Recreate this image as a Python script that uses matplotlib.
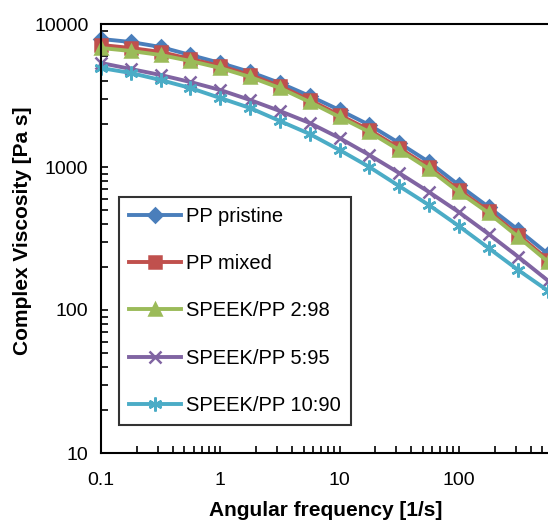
import matplotlib.pyplot as plt
from matplotlib.ticker import LogLocator, NullFormatter, FixedLocator, FixedFormatter

# angular frequency, 4 points per decade
freq = [0.1, 0.178, 0.316, 0.562, 1, 1.78, 3.16, 5.62, 10, 17.8, 31.6, 56.2, 100, 178, 316, 562]

pp_pristine = [7855, 7483, 6906, 6071, 5337, 4617, 3867, 3137, 2504, 1967, 1472, 1084, 748, 525, 363, 246]
pp_mixed = [7131, 6796, 6372, 5692, 5085, 4399, 3685, 2941, 2310, 1815, 1358, 1000, 691, 492, 335, 224]
speek_2 = [6796, 6475, 6071, 5512, 4924, 4260, 3568, 2848, 2237, 1757, 1315, 968, 669, 477, 324, 217]
speek_5 = [5337, 4846, 4399, 3930, 3455, 2941, 2464, 2032, 1595, 1213, 908, 669, 484, 340, 235, 160]
speek_10 = [4924, 4543, 4058, 3568, 3037, 2586, 2098, 1702, 1315, 1000, 736, 542, 387, 271, 190, 136]

labels = ["PP pristine", "PP mixed", "SPEEK/PP 2:98", "SPEEK/PP 5:95", "SPEEK/PP 10:90"]
colors = ["#4A7EBB", "#C0504D", "#9BBB59", "#8064A2", "#4BACC6"]
markers = ["D", "s", "^", "x", (6, 2, 0)]
msizes = [7, 8, 9, 8, 10]

plt.rcParams['font.family'] = ['Liberation Sans', 'DejaVu Sans']

fig = plt.figure(figsize=(5.48, 5.2), dpi=100)
# axes run to x=1000, slightly past the right edge of the picture
ax = fig.add_axes([101 / 548, 1 - 453 / 520, 477 / 548, 429 / 520])

series = [pp_pristine, pp_mixed, speek_2, speek_5, speek_10]
for y, lab, c, m, ms in zip(series, labels, colors, markers, msizes):
    ax.plot(freq, y, color=c, marker=m, markersize=ms, linewidth=2.8,
            markeredgewidth=1.8, label=lab, clip_on=False)

ax.set_xscale('log')
ax.set_yscale('log')
ax.set_xlim(0.1, 1000)
ax.set_ylim(10, 10000)

ax.xaxis.set_major_locator(FixedLocator([0.1, 1, 10, 100]))
ax.xaxis.set_major_formatter(FixedFormatter(["0.1", "1", "10", "100"]))
ax.xaxis.set_minor_locator(LogLocator(base=10, subs=range(2, 10)))
ax.xaxis.set_minor_formatter(NullFormatter())
ax.yaxis.set_major_locator(FixedLocator([10, 100, 1000, 10000]))
ax.yaxis.set_major_formatter(FixedFormatter(["10", "100", "1000", "10000"]))
ax.yaxis.set_minor_locator(LogLocator(base=10, subs=range(2, 10)))
ax.yaxis.set_minor_formatter(NullFormatter())

ax.tick_params(which='both', direction='in', labelsize=14, width=1.2)
ax.tick_params(which='minor', length=5)
ax.tick_params(axis='x', which='major', length=5, pad=14)
ax.tick_params(axis='y', which='major', length=5, pad=9)
for s in ax.spines.values():
    s.set_linewidth(1.5)

ax.set_xlabel("Angular frequency [1/s]", fontsize=15, fontweight='bold')
ax.set_ylabel("Complex Viscosity [Pa s]", fontsize=15, fontweight='bold')
ax.xaxis.set_label_coords((326 - 101) / 477, -(501 - 453) / 429)
ax.yaxis.set_label_coords(-(101 - 32) / 477, (453 - 231) / 429)

leg = ax.legend(loc='upper left', bbox_to_anchor=(18 / 477, (453 - 197) / 429),
                borderaxespad=0, fontsize=14.5, fancybox=False, frameon=True,
                handlelength=2.6, handletextpad=0.25, labelspacing=1.4,
                borderpad=0.5)
leg.get_frame().set_edgecolor('black')
leg.get_frame().set_linewidth(1.5)

plt.savefig("out.png", dpi=100)
